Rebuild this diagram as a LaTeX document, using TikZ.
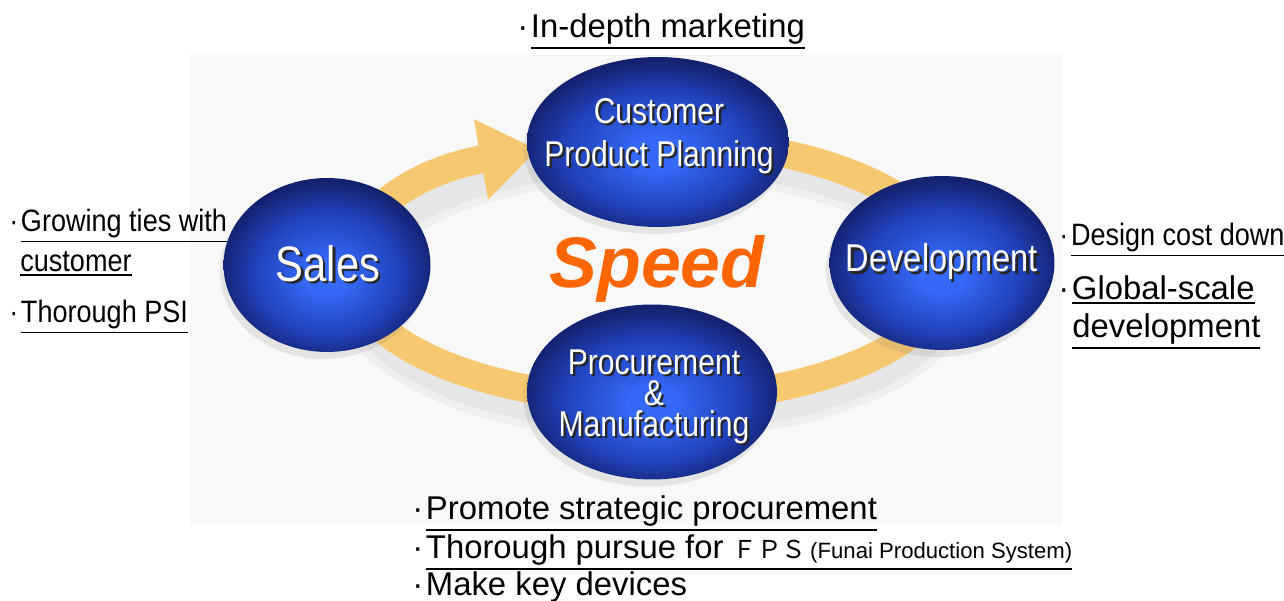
\documentclass[tikz,border=0pt]{standalone}
\usepackage{fontspec}
\setmainfont{Liberation Sans}
\newfontfamily\narrowfont[FakeStretch=0.84]{Liberation Sans}
\newfontfamily\notefont[FakeStretch=0.875]{Liberation Sans}
\newfontfamily\widefont{Noto Sans CJK JP}
\usetikzlibrary{arrows.meta,shapes.geometric,shadows}

\definecolor{SpeedOrange}{RGB}{255,102,0}
\definecolor{RingGold}{RGB}{246,200,112}
\definecolor{BlobLight}{RGB}{52,104,246}
\definecolor{BlobMid}{RGB}{32,64,184}
\definecolor{BlobDark}{RGB}{20,34,112}
\definecolor{PanelGray}{RGB}{248,248,248}

% bright core, dark rim
\pgfdeclareradialshading{blobshade}{\pgfpoint{0bp}{-4bp}}{%
  color(0bp)=(BlobLight); color(5bp)=(BlobLight); color(18bp)=(BlobMid);
  color(26bp)=(BlobDark); color(50bp)=(BlobDark)}

% white lettering with a dark offset copy underneath
\newcommand{\shadowed}[1]{\makebox[0pt][l]{\kern1.3pt\raisebox{-1.3pt}{\color{black!85}#1}}#1}
% heavier underline, sitting just under the lowest letter
\newcommand{\uln}[1]{\setbox0\hbox{#1}%
  \leavevmode\rlap{\raisebox{-\dimexpr\dp0+2.3pt\relax}{\rule{\wd0}{1.1pt}}}\box0}
\newcommand{\dotitem}{·\kern1.5pt}

\tikzset{
  cyc/blob/.style={
    ellipse,
    inner sep=0pt,
    shading=blobshade,
    drop shadow={shadow xshift=-2pt, shadow yshift=-4pt, opacity=0.16}
  },
  cyc/blobtext/.style={
    font=\narrowfont\fontsize{20.4}{24.4}\selectfont,
    text=white,
    align=center,
    inner sep=0pt
  },
  cyc/note/.style={font=\fontsize{18.7}{22}\selectfont, inner sep=0pt, anchor=base west},
  cyc/narrownote/.style={font=\notefont\fontsize{17.6}{21}\selectfont, inner sep=0pt, anchor=base west},
  cyc/ring/.style={draw=RingGold, line width=0.56cm},
  cyc/ringshadow/.style={draw=black, opacity=0.035}
}

\begin{document}
\begin{tikzpicture}[x=0.02cm,y=0.02cm]
  \useasboundingbox (0,0) rectangle (1284,601);
  % soft panel behind the cycle
  \fill[PanelGray] (190,76) rectangle (1062,546);

  % the loop, running round to the planning stage
  \draw[cyc/ringshadow,line width=0.8cm] (654,311) ellipse [x radius=300, y radius=130];
  \draw[cyc/ringshadow,line width=0.5cm] (654,311) ellipse [x radius=300, y radius=130];
  \draw[cyc/ring,-{Triangle[width=1.55cm,length=1.15cm]}] (650,331) ++(470:300 and 130)
    arc[start angle=470, end angle=112, x radius=300, y radius=130];

  % stages
  \node[cyc/blob,minimum width=5.24cm,minimum height=3.4cm] (plan) at (658,459) {};
  \node[cyc/blob,minimum width=4.14cm,minimum height=3.48cm] (sales) at (327,336) {};
  \node[cyc/blob,minimum width=4.5cm,minimum height=3.48cm] (dev) at (942,338) {};
  \node[cyc/blob,minimum width=5.0cm,minimum height=3.5cm] (proc) at (652,209) {};

  \node[cyc/blobtext] (plan text) at (659,464) {\shadowed{Customer}\\\shadowed{Product Planning}};
  \node[cyc/blobtext,font=\narrowfont\fontsize{28.3}{30}\selectfont] (sales text) at (328,336) {\shadowed{Sales}};
  \node[cyc/blobtext,font=\narrowfont\fontsize{22.1}{24}\selectfont] (dev text) at (942,338) {\shadowed{Development}};
  \node[cyc/blobtext,font=\narrowfont\fontsize{20.4}{17.6}\selectfont] (proc text) at (654,203)
    {\shadowed{Procurement}\\\shadowed{\&}\\\shadowed{Manufacturing}};

  \node[font=\bfseries\itshape\fontsize{40.8}{44}\selectfont,text=SpeedOrange,anchor=base,inner sep=0pt]
    (speed) at (657,313) {Speed};

  % notes round the loop
  \node[cyc/note] (marketing) at (517,563) {\dotitem\uln{In-depth marketing}};
  \node[cyc/narrownote] (ties) at (9,369) {\dotitem\uln{Growing ties with}};
  \node[cyc/narrownote] (ties cont) at (20,329) {\uln{customer}};
  \node[cyc/narrownote] (psi) at (9,278) {\dotitem\uln{Thorough PSI}};
  \node[cyc/narrownote] (costdown) at (1059,355) {\dotitem\uln{Design cost down}};
  \node[cyc/note] (global) at (1058,301) {\dotitem\uln{Global-scale}};
  \node[cyc/note] (global cont) at (1072,263) {\uln{development}};
  \node[cyc/note] (strategic) at (412,81) {\dotitem\uln{Promote strategic procurement}};
  \node[cyc/note] (fps) at (412,42) {\dotitem\uln{Thorough pursue for {\widefont\fontsize{14}{16}\selectfont ＦＰＳ}{\fontsize{12.6}{14}\selectfont\,(Funai Production System)}}};
  \node[cyc/note] (devices) at (412,5) {\dotitem Make key devices};
\end{tikzpicture}
\end{document}
